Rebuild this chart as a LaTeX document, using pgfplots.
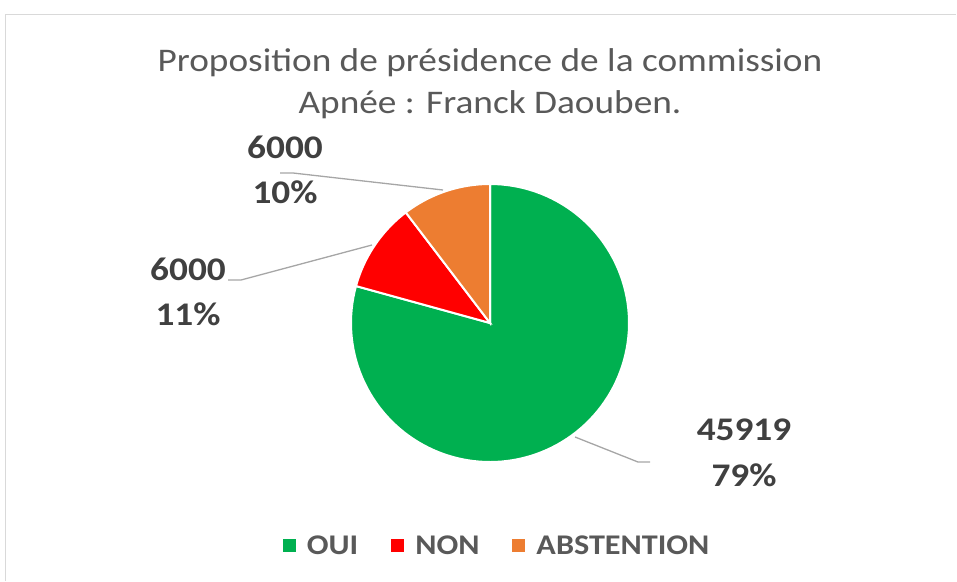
\documentclass[border=0pt]{standalone}
\usepackage{fontspec}
\setmainfont{Carlito}
\usepackage{pgfplots}
\pgfplotsset{compat=1.18}

\definecolor{oui}{HTML}{00B050}
\definecolor{non}{HTML}{FF0000}
\definecolor{abst}{HTML}{ED7D31}
\definecolor{txt}{HTML}{595959}
\definecolor{lbl}{HTML}{404040}
\definecolor{lead}{HTML}{A6A6A6}
\definecolor{frame}{HTML}{D9D9D9}

% vote counts
\def\vOui{45919}
\def\vNon{6000}
\def\vAbs{6000}
\edef\tot{\fpeval{\vOui+\vNon+\vAbs}}
% slice angles, clockwise from 12 o'clock
\edef\aA{90}
\edef\aB{\fpeval{90-360*\vOui/\tot}}
\edef\aC{\fpeval{\aB-360*\vNon/\tot}}
\edef\aD{\fpeval{\aC-360*\vAbs/\tot}}

% the source text is a little wider than Carlito
\newcommand\wide[1]{\scalebox{1.13}[1]{#1}}

\begin{document}
\begin{tikzpicture}
\begin{axis}[
    hide axis, scale only axis, clip=false,
    width=278pt, height=278pt,
    xmin=-1, xmax=1, ymin=-1, ymax=1,
    at={(490pt,-323pt)}, anchor=center,
    legend columns=3,
    legend style={draw=none, fill=none, text=txt,
        font=\fontsize{28.5}{34}\selectfont\bfseries,
        nodes={inner sep=0pt},
        at={(0.522,-0.302)}, anchor=center,
        /tikz/every odd column/.append style={column sep=11pt},
        /tikz/every even column/.append style={column sep=33pt}},
    legend image code/.code={\fill[#1,draw=none] (0pt,-6.5pt) rectangle (13pt,6.5pt);},
]
\addplot[fill=oui, draw=white, line width=2pt, domain=\aB:\aA, samples=120, variable=\t]
    ({cos(\t)},{sin(\t)}) -- (0,0) -- cycle;
\addlegendentry{\wide{OUI}}
\addplot[fill=non, draw=white, line width=2pt, domain=\aC:\aB, samples=40, variable=\t]
    ({cos(\t)},{sin(\t)}) -- (0,0) -- cycle;
\addlegendentry{\wide{NON}}
\addplot[fill=abst, draw=white, line width=2pt, domain=\aD:\aC, samples=40, variable=\t]
    ({cos(\t)},{sin(\t)}) -- (0,0) -- cycle;
\addlegendentry{\wide{ABSTENTION}}
\end{axis}

\begin{scope}[x=1pt,y=-1pt]
\path[use as bounding box] (0,0) rectangle (957,581);
\draw[frame, line width=1pt] (5,581) -- (5,14) -- (956,14);
% title
\tikzset{tt/.style={anchor=base, text=txt, font=\fontsize{33}{40}\selectfont}}
\node[tt] at (490,71) {\wide{Proposition de présidence de la commission}};
\node[tt] at (490,113) {\wide{Apnée : Franck Daouben.}};
% leader lines
\draw[lead, line width=1.3pt] (280,173) -- (293,173) -- (443,190);
\draw[lead, line width=1.3pt] (228,280) -- (241,280) -- (372,245);
\draw[lead, line width=1.3pt] (575,437) -- (638,462) -- (650,462);
% data labels
\tikzset{lb/.style={anchor=base, text=lbl, font=\fontsize{33}{40}\selectfont\bfseries}}
\node[lb] at (285,158) {\wide{6000}};
\node[lb] at (285,203) {\wide{10\%}};
\node[lb] at (188,280) {\wide{6000}};
\node[lb] at (188,325) {\wide{11\%}};
\node[lb] at (744,440) {\wide{45919}};
\node[lb] at (744,486) {\wide{79\%}};
\end{scope}
\end{tikzpicture}
\end{document}
